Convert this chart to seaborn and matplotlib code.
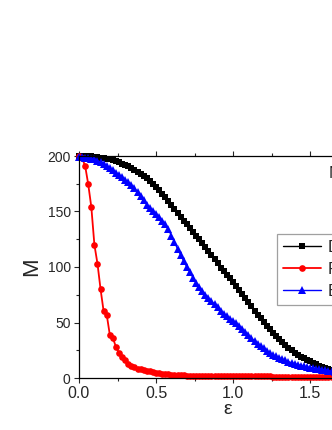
import seaborn as sns
import matplotlib.pyplot as plt
from matplotlib.ticker import MultipleLocator

# epsilon grid (step 0.02)
eps = [0.00, 0.02, 0.04, 0.06, 0.08, 0.10, 0.12, 0.14, 0.16, 0.18,
       0.20, 0.22, 0.24, 0.26, 0.28, 0.30, 0.32, 0.34, 0.36, 0.38,
       0.40, 0.42, 0.44, 0.46, 0.48, 0.50, 0.52, 0.54, 0.56, 0.58,
       0.60, 0.62, 0.64, 0.66, 0.68, 0.70, 0.72, 0.74, 0.76, 0.78,
       0.80, 0.82, 0.84, 0.86, 0.88, 0.90, 0.92, 0.94, 0.96, 0.98,
       1.00, 1.02, 1.04, 1.06, 1.08, 1.10, 1.12, 1.14, 1.16, 1.18,
       1.20, 1.22, 1.24, 1.26, 1.28, 1.30, 1.32, 1.34, 1.36, 1.38,
       1.40, 1.42, 1.44, 1.46, 1.48, 1.50, 1.52, 1.54, 1.56, 1.58,
       1.60, 1.62, 1.64, 1.66, 1.68, 1.70]

# black squares
m_black = [200, 200, 200, 199.8, 199.6, 199.3, 199, 198.6, 198.1, 197.6,
           197, 196.2, 195.3, 194.3, 193.2, 192, 190.7, 189.3, 187.7, 186,
           184.2, 182.2, 180, 177.6, 175, 172.2, 169.2, 166, 162.7, 159.3,
           155.8, 152.3, 148.8, 145.3, 141.8, 138.4, 135, 131.6, 128.2, 124.8,
           121.4, 118, 114.6, 111.1, 107.5, 103.6, 99.5, 96.3, 93.2, 90,
           86.6, 83.1, 79.5, 75.8, 72, 68.2, 64.5, 60.8, 57.2, 53.7,
           50.3, 47, 43.8, 40.7, 37.7, 34.9, 32.2, 29.6, 27.2, 24.9,
           22.8, 20.8, 19.1, 17.6, 16.2, 14.9, 13.6, 12.4, 11.2, 10.1,
           9.1, 8.2, 7.4, 6.7, 6, 5.4]

# red circles
m_red = [200, 198, 191, 174.5, 154, 120, 103, 80, 60, 57,
         39, 36, 28, 22.5, 19, 16, 13, 11, 9.5, 8,
         8.5, 7.5, 6.5, 6, 5.3, 4.8, 4.3, 3.9, 3.5, 3.2,
         3, 2.8, 2.6, 2.4, 2.3, 2.2, 2.1, 2.1, 2, 2,
         1.9, 1.9, 1.8, 1.8, 1.8, 1.7, 1.7, 1.7, 1.6, 1.6,
         1.6, 1.6, 1.5, 1.5, 1.5, 1.5, 1.5, 1.4, 1.4, 1.4,
         1.4, 1.4, 1.4, 1.3, 1.3, 1.3, 1.3, 1.3, 1.3, 1.3,
         1.2, 1.2, 1.2, 1.2, 1.2, 1.2, 1.2, 1.2, 1.2, 1.2,
         1.2, 1.1, 1.1, 1.1, 1.1, 1.1]

# blue triangles
m_blue = [199.5, 199, 198.5, 198, 197.5, 197, 195.8, 194.5, 193, 191,
          189, 187, 185, 183, 180.8, 178.6, 176.3, 173.8, 171, 167.8,
          164, 160, 156.3, 153.2, 150.4, 147.6, 144.8, 141.8, 138.4, 134,
          128.2, 122.2, 116.4, 110.8, 105.2, 100, 95.2, 90.5, 86, 82,
          78.4, 75.2, 72.2, 69.3, 66.5, 63.6, 60.7, 58, 55.6, 53.6,
          51.8, 49.6, 47, 44.2, 41.4, 38.6, 36, 33.4, 31, 28.7,
          26.6, 24.4, 22.4, 20.8, 19.4, 18.1, 16.9, 15.8, 14.7, 13.7,
          12.8, 12, 11.2, 10.5, 9.9, 9.4, 8.9, 8.5, 8.1, 7.6,
          7.1, 6.6, 6.2, 5.8, 5.4, 5.1]

labels = ['Degree', 'Random', 'Betweenness']
panel_text = 'N=200'

sns.set_style('ticks')
plt.rcParams['font.family'] = ['Liberation Sans', 'DejaVu Sans']

fig = plt.figure(figsize=(3.32, 4.30), dpi=100)
# axes run past the right edge of the picture, as in the reference crop
ax = fig.add_axes([79 / 332, 52 / 430, 298 / 332, 222 / 430])

sns.lineplot(x=eps, y=m_black, ax=ax, color='black', marker='s', markersize=4.6,
             markeredgewidth=0, linewidth=1.0, label=labels[0], clip_on=False)
sns.lineplot(x=eps, y=m_red, ax=ax, color='red', marker='o', markersize=4.8,
             markeredgewidth=0, linewidth=1.3, label=labels[1], clip_on=False)
sns.lineplot(x=eps, y=m_blue, ax=ax, color='blue', marker='^', markersize=5.2,
             markeredgewidth=0, linewidth=1.0, label=labels[2], clip_on=False)

ax.set_xlim(0, 1.935)
ax.set_ylim(0, 200)
ax.xaxis.set_major_locator(MultipleLocator(0.5))
ax.xaxis.set_minor_locator(MultipleLocator(0.25))
ax.yaxis.set_major_locator(MultipleLocator(50))
ax.yaxis.set_minor_locator(MultipleLocator(25))
ax.xaxis.set_major_formatter(lambda v, p: f'{v:.1f}')

ax.tick_params(axis='both', which='major', direction='out', length=3.5, width=0.8, pad=2.5)
ax.tick_params(axis='both', which='minor', direction='out', length=2, width=0.8)
ax.tick_params(axis='x', which='both', top=True, labelsize=11.5)
ax.tick_params(axis='y', labelsize=10)
for s in ax.spines.values():
    s.set_visible(True)
    s.set_linewidth(0.9)
    s.set_color('black')

ax.set_xlabel('ε', fontsize=14, labelpad=0)
ax.set_ylabel('M', fontsize=16, labelpad=4)

# legend box is cut by the right edge, like in the reference
leg = ax.legend(loc='upper left', bbox_to_anchor=(276.5 / 332, 196 / 430),
                bbox_transform=fig.transFigure, borderaxespad=0, fontsize=12,
                fancybox=False, frameon=True, edgecolor='#888888', handlelength=2.3,
                handletextpad=0.4, borderpad=0.36, labelspacing=0.42)
leg.get_frame().set_linewidth(0.9)

fig.text(329 / 332, (430 - 174) / 430, panel_text, fontsize=12, ha='left', va='center')

plt.savefig('out.png', dpi=100)
